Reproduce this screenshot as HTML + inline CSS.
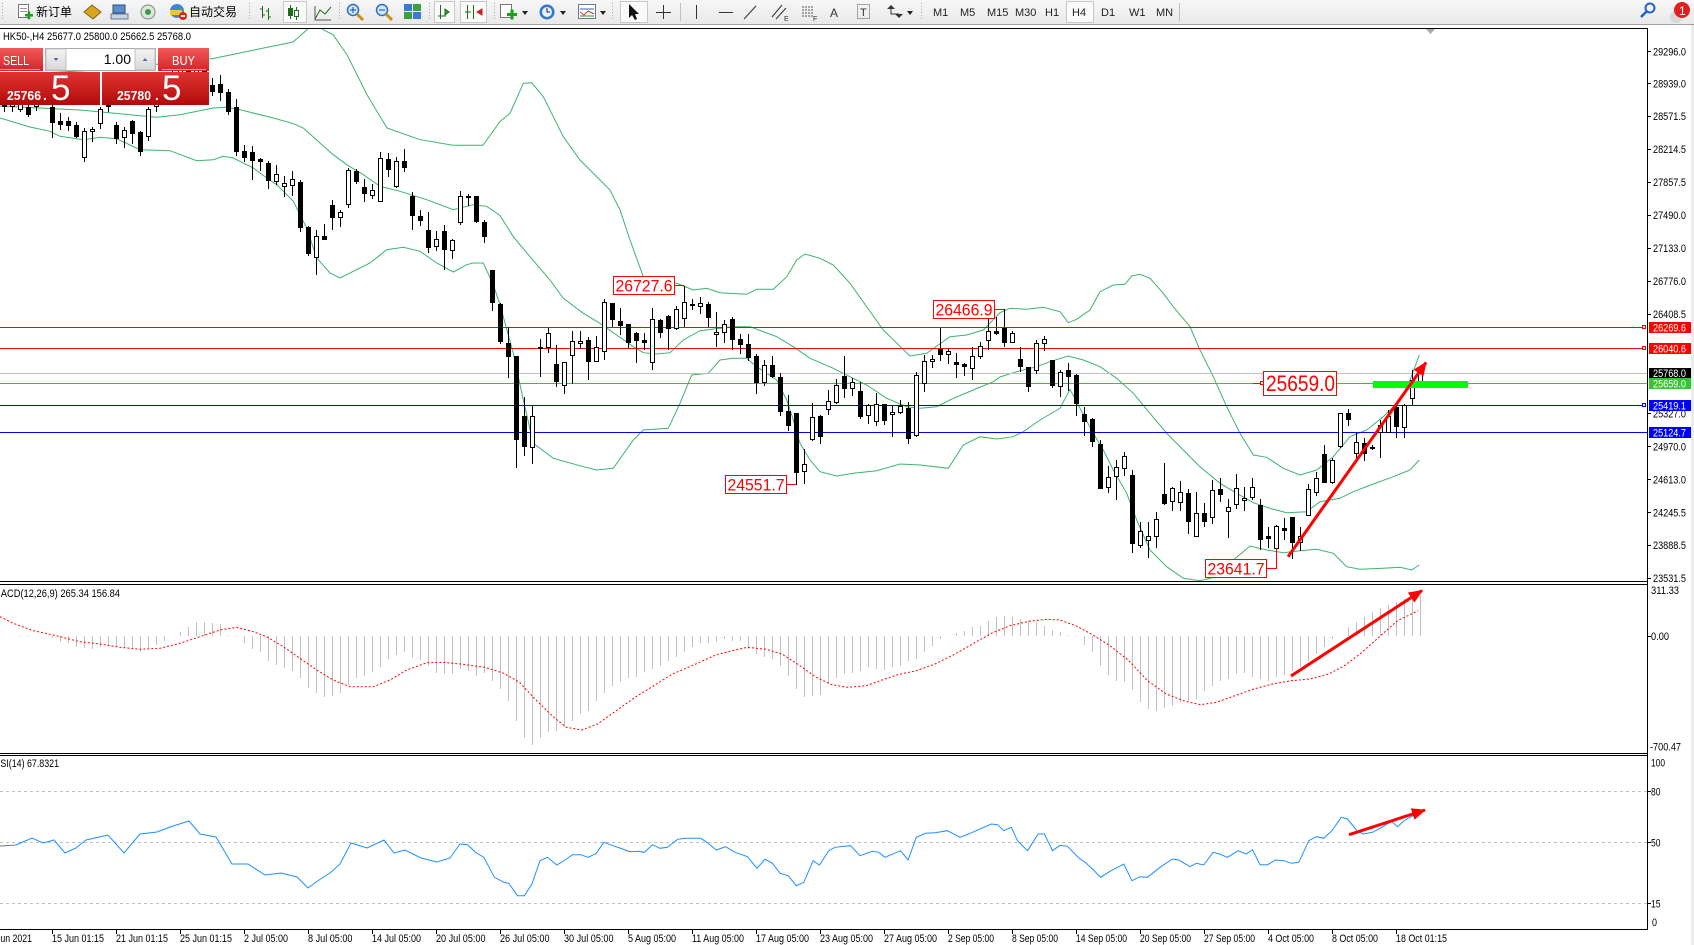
<!DOCTYPE html>
<html><head><meta charset="utf-8"><title>HK50 H4</title>
<style>
html,body{margin:0;padding:0;background:#fff;}
svg{display:block;}
text{font-family:"Liberation Sans","Noto Sans CJK SC",sans-serif;}
</style></head>
<body>
<svg id="c" width="1694" height="945" viewBox="0 0 1694 945" xmlns="http://www.w3.org/2000/svg">
<defs>
<clipPath id="cm"><rect x="0" y="29" width="1647" height="552"/></clipPath>
<clipPath id="cd"><rect x="0" y="585" width="1647" height="168"/></clipPath>
<clipPath id="cr"><rect x="0" y="756" width="1647" height="173"/></clipPath>
<linearGradient id="gb" x1="0" y1="0" x2="0" y2="1"><stop offset="0" stop-color="#f25a5a"/><stop offset="1" stop-color="#d42424"/></linearGradient>
<linearGradient id="gp" x1="0" y1="0" x2="0" y2="1"><stop offset="0" stop-color="#e03434"/><stop offset="1" stop-color="#b20a0a"/></linearGradient>
<linearGradient id="gt" x1="0" y1="0" x2="0" y2="1"><stop offset="0" stop-color="#f7f7f7"/><stop offset="1" stop-color="#e9e9e9"/></linearGradient>
<linearGradient id="gs" x1="0" y1="0" x2="0" y2="1"><stop offset="0" stop-color="#f4f4f4"/><stop offset="1" stop-color="#d8d8d8"/></linearGradient>
<marker id="ah" markerUnits="userSpaceOnUse" markerWidth="14" markerHeight="12" refX="13" refY="6" orient="auto"><path d="M0,0 L14,6 L0,12 Z" fill="#ff0000"/></marker>
</defs>

<rect x="0" y="0" width="1694" height="945" fill="#fff"/>

<!-- ============ TOOLBAR ============ -->
<rect x="0" y="0" width="1694" height="24" fill="url(#gt)"/>
<rect x="0" y="24" width="1694" height="1" fill="#a0a0a0"/>
<g stroke="#a8a8a8" stroke-dasharray="1,2">
<line x1="2.5" y1="3" x2="2.5" y2="21"/><line x1="249.5" y1="3" x2="249.5" y2="21"/>
<line x1="339.5" y1="3" x2="339.5" y2="21"/><line x1="429.5" y1="3" x2="429.5" y2="21"/>
<line x1="494.5" y1="3" x2="494.5" y2="21"/><line x1="612.5" y1="3" x2="612.5" y2="21"/>
<line x1="921.5" y1="3" x2="921.5" y2="21"/>
</g>
<g stroke="#c0c0c0"><line x1="680.5" y1="3" x2="680.5" y2="21"/><line x1="1179.5" y1="3" x2="1179.5" y2="21"/><line x1="235.5" y1="3" x2="235.5" y2="21" stroke="none"/></g>
<!-- pressed buttons -->
<g fill="#fafafa" stroke="#c8c8c8">
<rect x="283.5" y="1.5" width="23" height="21"/><rect x="434.5" y="1.5" width="20" height="21"/>
<rect x="460.5" y="1.5" width="26" height="21"/><rect x="620.5" y="1.5" width="27" height="21"/>
<rect x="1066.5" y="1.5" width="27" height="21"/>
</g>
<!-- new order -->
<rect x="18.5" y="4.5" width="10" height="13" fill="#fff" stroke="#777"/>
<line x1="20" y1="8.5" x2="27" y2="8.5" stroke="#999"/><line x1="20" y1="11.5" x2="27" y2="11.5" stroke="#999"/>
<rect x="25" y="14" width="8" height="2.5" fill="#1aa01a"/><rect x="27.7" y="11.3" width="2.5" height="8" fill="#1aa01a"/>
<text x="36" y="16" font-size="12" fill="#000">新订单</text>
<polygon points="84,12 92,5 101,12 93,19" fill="#d9a520" stroke="#8a6410"/>
<rect x="113" y="5" width="12" height="8" fill="#5b8fd0" stroke="#2a4f80"/><rect x="111" y="14" width="17" height="5" fill="#c9d4e2" stroke="#6a7a90"/>
<circle cx="148" cy="12" r="7" fill="#dce6dc" stroke="#7a8a7a"/><circle cx="148" cy="12" r="3" fill="#3a9a4a"/>
<circle cx="177" cy="11" r="7" fill="#3f86d8"/><rect x="170" y="10" width="12" height="5" fill="#f2c440"/><circle cx="183" cy="16" r="4" fill="#e02020"/><rect x="181" y="15" width="4" height="2" fill="#fff"/>
<text x="189" y="16" font-size="12" fill="#000">自动交易</text>
<!-- chart types -->
<g stroke="#1d6b1d" fill="none">
<path d="M262.5,6 V18 M260,9 H262.5 M262.5,15 H265 M268.5,8 V20 M266,11 H268.5 M268.5,17 H271"/>
<path d="M290.5,5 V19 M296.5,7 V20"/><rect x="288.5" y="8.5" width="4" height="7" fill="#1d6b1d"/><rect x="294.5" y="10.5" width="4" height="6" fill="#fff"/>
<path d="M315,19 L320,10 L325,14 L331,7"/><path d="M315,6 V20 H331" stroke="#555"/>
</g>
<!-- zoom icons -->
<circle cx="353" cy="10" r="5.5" fill="#cfe6ff" stroke="#2a6fc0" stroke-width="1.5"/><path d="M357,14 L363,20" stroke="#c89018" stroke-width="3"/><path d="M350,10 H356 M353,7 V13" stroke="#204a90"/>
<circle cx="382" cy="10" r="5.5" fill="#cfe6ff" stroke="#2a6fc0" stroke-width="1.5"/><path d="M386,14 L392,20" stroke="#c89018" stroke-width="3"/><path d="M379,10 H385" stroke="#204a90"/>
<rect x="404" y="4" width="8" height="7" fill="#3a7ad0"/><rect x="413" y="4" width="8" height="7" fill="#3aa040"/><rect x="404" y="12" width="8" height="7" fill="#3aa040"/><rect x="413" y="12" width="8" height="7" fill="#3a7ad0"/>
<g stroke="#1d6b1d" fill="none"><path d="M440.5,5 V19 M438,16 H446"/><path d="M445,9 L449,12 L445,15 Z" fill="#2aa02a"/>
<path d="M467.5,5 V19 M473.5,5 V19 M465,12 H471"/><path d="M482,9 L477,12 L482,15 Z" fill="#d02020" stroke="#d02020"/></g>
<rect x="500.5" y="4.5" width="11" height="13" fill="#fff" stroke="#777"/><rect x="507" y="13" width="10" height="3" fill="#1aa01a"/><rect x="510.5" y="9.5" width="3" height="10" fill="#1aa01a"/>
<path d="M522,11 L528,11 L525,15 Z" fill="#222"/>
<circle cx="547" cy="12" r="7.5" fill="#2f78d0"/><circle cx="547" cy="12" r="5" fill="#e8f0ff"/><path d="M547,8 V12 H550" stroke="#222" fill="none"/>
<path d="M560,11 L566,11 L563,15 Z" fill="#222"/>
<rect x="578.5" y="4.5" width="17" height="14" fill="#fff" stroke="#6a7a90"/><path d="M580,9 H594" stroke="#3060b0"/><path d="M580,12 L584,15 L588,11 L594,14" stroke="#d03030" fill="none"/><path d="M580,16 H594" stroke="#2a9a2a"/>
<path d="M600,11 L606,11 L603,15 Z" fill="#222"/>
<!-- drawing tools -->
<path d="M629,4 V18 L632,15 L635,20 L637,19 L635,14 L639,14 Z" fill="#111"/>
<path d="M663.5,5 V19 M656,12.5 H671" stroke="#333"/>
<path d="M696.5,5 V19" stroke="#333"/>
<path d="M719,12.5 H733" stroke="#333"/>
<path d="M744,19 L756,6" stroke="#333"/>
<path d="M772,17 L782,5 M776,19 L786,8" stroke="#333"/><text x="784" y="21" font-size="7" fill="#333">E</text>
<path d="M802,7 H814 M802,10 H814 M802,13 H814 M802,16 H814" stroke="#555" stroke-dasharray="2,1"/><text x="813" y="21" font-size="7" fill="#333">F</text>
<text x="830" y="17" font-size="12" fill="#333">A</text>
<rect x="857.5" y="4.5" width="12" height="14" fill="none" stroke="#555" stroke-dasharray="1,1"/><text x="860" y="16" font-size="11" fill="#333">T</text>
<path d="M887,9 L891,5 L895,9 Z M895,14 L899,18 L903,14 Z" fill="#333"/><path d="M891,9 V14 H899" stroke="#333" fill="none"/>
<path d="M907,11 L913,11 L910,15 Z" fill="#222"/>
<!-- timeframes -->
<g font-size="11" fill="#222">
<text x="933" y="16">M1</text><text x="960" y="16">M5</text><text x="987" y="16">M15</text><text x="1015" y="16">M30</text>
<text x="1045" y="16">H1</text><text x="1072" y="16">H4</text><text x="1101" y="16">D1</text><text x="1129" y="16">W1</text><text x="1156" y="16">MN</text>
</g>
<circle cx="1650" cy="8" r="4.5" fill="none" stroke="#2060d0" stroke-width="2"/><path d="M1647,11 L1641,17" stroke="#2060d0" stroke-width="2.5"/>
<circle cx="1676" cy="17" r="6" fill="#d8d8d8"/>
<circle cx="1682" cy="10" r="8" fill="#e02020"/><text x="1679" y="15" font-size="12" fill="#fff">1</text>

<!-- ============ FRAME ============ -->
<rect x="0" y="25" width="1694" height="3" fill="#fff"/>
<rect x="0" y="28" width="1647" height="1" fill="#000"/>
<rect x="1691" y="25" width="3" height="920" fill="#ececec"/>
<polygon points="1426,29 1435,29 1430.5,34" fill="#a8a8a8"/>

<!-- ============ MAIN CHART ============ -->
<g clip-path="url(#cm)">
<g fill="none" stroke="#3cb371" stroke-width="1">
<polyline points="0,75 100,70 212,58.7 293,42 307,29.7 315,22 323,29.7 333,34.7 347,54.7 367,94.7 387,128 420,139.7 453,145.3 483,145.3 500,121.5 510,113.3 523.3,83.3 531.7,82.7 543.3,96.7 563.3,136.7 580,160 596.7,176.7 610,190 620,210 630,240 643.3,276.7 660,281.7 676.7,283.3 693.3,290 706.7,288.3 720,292.7 746.7,294.3 756.7,289.3 773.3,289.3 786.7,276.7 796.7,260 805,254 820,258.3 833.3,265 850,283.3 883.3,330 910,356 926.7,353.3 950,336.7 966.7,335 983.3,330 1000,312.7 1010,308.3 1026.7,309.3 1043.3,307.3 1060,311.7 1068.3,322.7 1076.7,319.3 1090,310 1100,291.7 1113.3,285 1125,284.3 1131.7,276 1140,274.3 1150,278.3 1163.3,293.3 1173.3,306.7 1190,326.7 1200,350 1213.3,376.7 1226.7,406.7 1240,433.3 1253.3,455 1266.7,457.3 1283.3,468.3 1300,475 1316.7,470 1333.3,456.7 1350,436.7 1366.7,430 1383.3,416.7 1400,400 1410,380 1419.3,355"/>
<polyline points="0,106 80,110 157,117.3 180,114.7 213.3,108 226.7,107.3 240,109.7 273.3,118 293.3,123.7 303.3,128 320,143 333.3,154.7 346.7,164.7 363.3,174.7 380,186.3 400,191.3 426.7,199.7 453.3,209.7 473.3,204.7 486.7,206.3 500,215.5 513.3,236.7 530,256.7 550,280 563.3,298.3 583.3,313.3 600,323.3 616.7,335 633.3,346.7 643.3,352.7 656.7,354 670,352.7 683.3,340 700,330.7 720,328.3 733.3,326.7 750,326.7 776.7,336.7 793.3,346.7 810,358.3 833.3,368.3 850,376.7 866.7,385 886.7,398.3 906.7,406.7 920,408.3 936.7,406.7 953.3,398.3 973.3,390 993.3,381.7 1000,377 1016.7,371.7 1036.7,366.7 1050,361.7 1068.3,356 1083.3,360 1100,366.7 1116.7,378.3 1133.3,393.3 1150,413.3 1166.7,433.3 1183.3,450 1200,466.7 1220,483.3 1236.7,493.3 1253.3,502.7 1270,508.3 1286.7,512.7 1306.7,511.7 1320,501.7 1340,498.3 1353.3,491.7 1373.3,484 1393.3,476.7 1410,470 1419.3,460"/>
<polyline points="0,118 30,127 50,131.3 60,136.3 83.3,139.7 100,137.3 116.7,138.7 140,149.7 170,150.7 196.7,160.7 213.3,159.7 223.3,156.3 233.3,158 253.3,168 266.7,178 276.7,184.7 293.3,201.3 300,214.7 306.7,228 316.7,258 330,273 340,278 353.3,271.3 370,263 386.7,249.7 403.3,247.3 420,251.3 436.7,263 453.3,272 466.7,264.7 473.3,263 483.3,263 493.3,284.7 500,304.7 503.3,316.7 513.3,353.3 523.3,400 533.3,443.3 553.3,458.3 583.3,466.7 596.7,470 613.3,468.3 633.3,440 643.3,430 668.3,428.3 680,403.3 691.7,375 708.3,373.3 720,360 733.3,358.3 746.7,358.3 756.7,366.7 766.7,373.3 776.7,380 786.7,400 793.3,420 800,443.3 810,460 820,471.7 836.7,476 853.3,473.3 876.7,470.7 900,464 920,465 948.3,468.3 963.3,445 980,436.7 996.7,439 1013.3,436.7 1023.3,431.7 1040,420 1060,408.3 1070,389.3 1080,408.3 1093.3,433.3 1103.3,450 1113.3,470 1126.7,493.3 1136.7,520 1150,550 1166.7,566.7 1183.3,578.3 1200,580.7 1216.7,576.7 1233.3,560 1250,546 1266.7,550 1283.3,552.7 1300,550.7 1316.7,549.3 1333.3,553.3 1346.7,566.7 1360,569.3 1383.3,568.3 1400,567.3 1411.7,570 1419.3,565"/>
</g>
<g shape-rendering="crispEdges">
<rect x="0" y="327" width="1643" height="1" fill="#ff0000"/>
<rect x="0" y="348" width="1643" height="1" fill="#ff0000"/>
<rect x="0" y="373" width="1647" height="1" fill="#c0c0c0"/>
<rect x="0" y="383" width="1647" height="1" fill="#32c832"/>
<rect x="0" y="405" width="1643" height="1" fill="#0000ff"/>
<rect x="0" y="432" width="1647" height="1" fill="#0000ff"/>
<rect x="1642.5" y="325.5" width="3" height="3" fill="#fff" stroke="#ff0000"/>
<rect x="1642.5" y="346.5" width="3" height="3" fill="#fff" stroke="#ff0000"/>
<rect x="1642.5" y="403.5" width="3" height="3" fill="#fff" stroke="#0000ff"/>
</g>
<g id="candles" shape-rendering="crispEdges"></g>
<!-- annotations -->
<rect x="1373" y="381" width="95" height="7" fill="#00ff00"/>
<g shape-rendering="crispEdges">
<rect x="674" y="285" width="10" height="1" fill="#ff0000"/>
<rect x="994" y="309" width="10" height="1" fill="#ff0000"/>
<rect x="786" y="484" width="10" height="1" fill="#ff0000"/>
<rect x="1267" y="568" width="9" height="1" fill="#ff0000"/>
<rect x="1276" y="548" width="1" height="21" fill="#ff0000"/>
<rect x="1253" y="383" width="8" height="1" fill="#ff0000"/>
<rect x="1260.5" y="381.5" width="3" height="3" fill="#fff" stroke="#ff0000"/>
<rect x="613.5" y="276.5" width="61" height="18" fill="#fff" stroke="#ff0000"/>
<rect x="933.5" y="300.5" width="61" height="18" fill="#fff" stroke="#ff0000"/>
<rect x="725.5" y="475.5" width="61" height="18" fill="#fff" stroke="#ff0000"/>
<rect x="1205.5" y="559.5" width="61" height="18" fill="#fff" stroke="#ff0000"/>
<rect x="1263.5" y="371.5" width="73" height="24" fill="#fff" stroke="#ff0000"/>
</g>
<g fill="#ff0000" font-size="17">
<text x="615.5" y="291.5" textLength="57" lengthAdjust="spacingAndGlyphs">26727.6</text>
<text x="935.5" y="315.5" textLength="57" lengthAdjust="spacingAndGlyphs">26466.9</text>
<text x="727.5" y="490.5" textLength="57" lengthAdjust="spacingAndGlyphs">24551.7</text>
<text x="1207.5" y="574.5" textLength="57" lengthAdjust="spacingAndGlyphs">23641.7</text>
<text x="1266" y="391" font-size="22" textLength="69" lengthAdjust="spacingAndGlyphs">25659.0</text>
</g>
<line x1="1288" y1="556.7" x2="1426" y2="362.5" stroke="#ff0000" stroke-width="3" marker-end="url(#ah)"/>
</g>

<!-- header -->
<text x="3" y="40" font-size="11" fill="#000" textLength="188" lengthAdjust="spacingAndGlyphs">HK50-,H4  25677.0 25800.0 25662.5 25768.0</text>

<!-- one click trading panel -->
<rect x="0" y="48" width="43" height="23" fill="url(#gb)"/>
<rect x="0" y="69" width="40" height="1" fill="#f4a0a0"/>
<text x="3" y="65" font-size="13" fill="#fff" textLength="26" lengthAdjust="spacingAndGlyphs">SELL</text>
<rect x="45.5" y="48.5" width="110" height="22" fill="#fff" stroke="#a8a8a8"/>
<rect x="46" y="49" width="20" height="21" fill="url(#gs)" stroke="#c0c0c0"/>
<rect x="135" y="49" width="20" height="21" fill="url(#gs)" stroke="#c0c0c0"/>
<path d="M53.5,58 L58.5,58 L56,61 Z" fill="#5a6aa0"/>
<path d="M142.5,61 L147.5,61 L145,58 Z" fill="#5a6aa0"/>
<text x="131" y="64" font-size="14" fill="#000" text-anchor="end">1.00</text>
<rect x="158" y="48" width="51" height="23" fill="url(#gb)"/>
<rect x="162" y="69" width="44" height="1" fill="#f4a0a0"/>
<text x="172" y="65" font-size="13" fill="#fff" textLength="23" lengthAdjust="spacingAndGlyphs">BUY</text>
<rect x="0" y="72" width="100" height="33" fill="url(#gp)"/>
<rect x="102" y="72" width="107" height="33" fill="url(#gp)"/>
<g fill="#fff">
<text x="7" y="100" font-size="13" font-weight="bold" textLength="34" lengthAdjust="spacingAndGlyphs">25766</text>
<text x="43" y="100" font-size="14" font-weight="bold">.</text>
<text x="51" y="100" font-size="35">5</text>
<text x="117" y="100" font-size="13" font-weight="bold" textLength="34" lengthAdjust="spacingAndGlyphs">25780</text>
<text x="155" y="100" font-size="14" font-weight="bold">.</text>
<text x="162" y="100" font-size="35">5</text>
</g>

<!-- ============ MACD ============ -->
<g clip-path="url(#cd)">
<g id="hist" stroke="#c0c0c0" shape-rendering="crispEdges"></g>
<polyline fill="none" stroke="#ff0000" stroke-dasharray="2,2" points="0,616.7 13.3,623.3 33.3,630.7 53.3,635 80,641.7 100,644 120,647.3 140,649.3 160,648.3 180,643.3 200,636.7 220,630 236.7,627.3 253.3,631.7 266.7,636.7 283.3,646.7 300,658.3 316.7,670 333.3,680 350,686.7 373.3,686.7 390,680 406.7,670 426.7,662.7 443.3,662.3 460,664 485,667.3 503.8,673.3 519.4,682.3 535,699 553.8,717.3 566.3,727.3 581.9,730 597.5,724 616.3,710.7 635,697.3 653.8,685.7 672.5,674 697.5,663.3 716.3,654.7 735,650 747.5,647.3 766.3,649.3 781.9,654 797.5,664 816.3,677.3 831.9,684.7 847.5,687.3 866.3,685.7 885,679 897.5,674.7 916.3,670.7 935,664 953.8,654.7 972.5,644 991.3,633.3 1010,625.7 1028.8,621.3 1047.5,619.3 1060,620 1075.6,625.7 1091.3,634 1110,645.7 1128.8,660.7 1147.5,680.7 1166.3,694 1185,701.3 1200.6,704.7 1216.3,702.3 1235,695.7 1253.8,689 1272.5,684 1291.3,680.7 1310,679 1328.8,674 1344.4,665.7 1360,654 1378.8,637.3 1397.5,620.7 1418.1,610.7"/>
<line x1="1291" y1="676" x2="1422" y2="590.5" stroke="#ff0000" stroke-width="3" marker-end="url(#ah)"/>
</g>
<text x="-7" y="597" font-size="11" fill="#000" textLength="127" lengthAdjust="spacingAndGlyphs">MACD(12,26,9) 265.34 156.84</text>

<!-- ============ RSI ============ -->
<g clip-path="url(#cr)">
<g stroke="#c0c0c0" stroke-dasharray="3,3" shape-rendering="crispEdges">
<line x1="0" y1="791.5" x2="1647" y2="791.5"/><line x1="0" y1="842.5" x2="1647" y2="842.5"/><line x1="0" y1="903.5" x2="1647" y2="903.5"/>
</g>
<polyline fill="none" stroke="#1e90ff" stroke-width="1" points="0,846 16,845 32,838 43,843 54,840 65,853 76,848 86,840 108,835 124,853 140,834 157,832 173,826 189,821 200,834 216,837 232,864 248,864 265,875 281,873 297,877 308,888 319,880 330,873 340,864 351,843 367,848 384,840 394,853 405,850 421,858 437,862 450,858 460,844 467.5,844.7 475.6,852.3 483.8,857.3 494.4,877.3 503.8,882.3 508.8,883.3 517.5,895.7 524.4,895.7 531.9,884 540,860.7 547.5,857.3 556.9,865 565,860 572.5,854.7 580.6,854.7 588.1,857.3 596.3,853.3 603.8,842.3 613.1,845.7 622.5,849 630,851.7 638.1,851.3 644.4,852.3 652.5,844.7 660,848.3 667.5,847.3 677.5,839.3 685,838.3 700.6,838.3 706.9,842.3 716.3,850 725.6,846.7 735,852.3 747.5,856.7 756.9,868.3 765,859.3 772.5,863.3 780,873.3 788.1,875.7 796.3,885.7 803.8,882.3 813.1,860.7 819.4,865 828.8,850.7 835,847.3 850.6,845.7 860,855.7 872.5,851.3 878.8,852.3 885,857.3 900.6,850.7 908.1,860 916.3,837.3 925.6,833.3 935,832.7 947.5,830.7 960,837.3 972.5,832.3 991.3,824 997.5,824.7 1003.8,830.7 1011.3,827.3 1017.5,840.7 1027.5,850.7 1038.1,834 1044.4,834 1052.5,850.7 1060,845.3 1067.5,846.3 1078.8,858 1085,862.3 1092.5,869 1100.6,877.3 1110,871.3 1123.8,864 1131.9,880.7 1140,876.7 1147.5,877.3 1160,867.3 1172.5,859 1178.8,860 1190,866.7 1196.3,863.3 1203.8,865 1213.1,852.3 1219.4,854 1227.5,857.3 1238.1,850.7 1246.3,854 1252.5,849.7 1260,864.7 1267.5,864.7 1275.6,860 1283.8,860.7 1291.3,863.3 1298.8,862.3 1308.8,840.7 1316.3,836.7 1323.8,838.3 1331.9,830.7 1341.3,817.3 1347.5,819 1356.9,830.7 1363.1,834 1372.5,832.3 1381.9,827.3 1391.3,821.3 1397.5,826.7 1405,820 1413.1,815.7 1420,812"/>
<line x1="1349" y1="834.7" x2="1425" y2="810" stroke="#ff0000" stroke-width="3" marker-end="url(#ah)"/>
</g>
<text x="-6" y="767" font-size="11" fill="#000" textLength="65" lengthAdjust="spacingAndGlyphs">RSI(14) 67.8321</text>

<!-- ============ PANE BORDERS / AXES ============ -->
<g fill="#000" shape-rendering="crispEdges">
<rect x="0" y="581" width="1647" height="1"/>
<rect x="0" y="584" width="1647" height="1"/>
<rect x="0" y="753" width="1647" height="1"/>
<rect x="0" y="755" width="1647" height="1"/>
<rect x="0" y="929" width="1647" height="1"/>
<rect x="1647" y="28" width="1" height="902"/>
</g>
<!-- price ticks -->
<g stroke="#000" shape-rendering="crispEdges">
<line x1="1647" y1="51.5" x2="1651" y2="51.5"/><line x1="1647" y1="83.5" x2="1651" y2="83.5"/><line x1="1647" y1="116.5" x2="1651" y2="116.5"/>
<line x1="1647" y1="149.5" x2="1651" y2="149.5"/><line x1="1647" y1="182.5" x2="1651" y2="182.5"/><line x1="1647" y1="215.5" x2="1651" y2="215.5"/>
<line x1="1647" y1="248.5" x2="1651" y2="248.5"/><line x1="1647" y1="281.5" x2="1651" y2="281.5"/><line x1="1647" y1="314.5" x2="1651" y2="314.5"/>
<line x1="1647" y1="413.5" x2="1651" y2="413.5"/><line x1="1647" y1="446.5" x2="1651" y2="446.5"/><line x1="1647" y1="479.5" x2="1651" y2="479.5"/>
<line x1="1647" y1="512.5" x2="1651" y2="512.5"/><line x1="1647" y1="545.5" x2="1651" y2="545.5"/><line x1="1647" y1="578.5" x2="1651" y2="578.5"/>
<line x1="1647" y1="636.5" x2="1651" y2="636.5"/><line x1="1647" y1="791.5" x2="1651" y2="791.5"/><line x1="1647" y1="842.5" x2="1651" y2="842.5"/><line x1="1647" y1="903.5" x2="1651" y2="903.5"/>
</g>
<g font-size="11" fill="#000" lengthAdjust="spacingAndGlyphs">
<text x="1653" y="55.5" textLength="33" lengthAdjust="spacingAndGlyphs">29296.0</text>
<text x="1653" y="87.5" textLength="33" lengthAdjust="spacingAndGlyphs">28939.0</text>
<text x="1653" y="120" textLength="33" lengthAdjust="spacingAndGlyphs">28571.5</text>
<text x="1653" y="153" textLength="33" lengthAdjust="spacingAndGlyphs">28214.5</text>
<text x="1653" y="186" textLength="33" lengthAdjust="spacingAndGlyphs">27857.5</text>
<text x="1653" y="219" textLength="33" lengthAdjust="spacingAndGlyphs">27490.0</text>
<text x="1653" y="252" textLength="33" lengthAdjust="spacingAndGlyphs">27133.0</text>
<text x="1653" y="285" textLength="33" lengthAdjust="spacingAndGlyphs">26776.0</text>
<text x="1653" y="318" textLength="33" lengthAdjust="spacingAndGlyphs">26408.5</text>
<text x="1653" y="417.5" textLength="33" lengthAdjust="spacingAndGlyphs">25327.0</text>
<text x="1653" y="450.5" textLength="33" lengthAdjust="spacingAndGlyphs">24970.0</text>
<text x="1653" y="483.5" textLength="33" lengthAdjust="spacingAndGlyphs">24613.0</text>
<text x="1653" y="516.5" textLength="33" lengthAdjust="spacingAndGlyphs">24245.5</text>
<text x="1653" y="549" textLength="33" lengthAdjust="spacingAndGlyphs">23888.5</text>
<text x="1653" y="582" textLength="33" lengthAdjust="spacingAndGlyphs">23531.5</text>
<text x="1651" y="594" textLength="28" lengthAdjust="spacingAndGlyphs">311.33</text>
<text x="1651" y="640" textLength="18" lengthAdjust="spacingAndGlyphs">0.00</text>
<text x="1650" y="750.5" textLength="31" lengthAdjust="spacingAndGlyphs">-700.47</text>
<text x="1651" y="766.5" textLength="14" lengthAdjust="spacingAndGlyphs">100</text>
<text x="1651" y="795.5" textLength="9.5" lengthAdjust="spacingAndGlyphs">80</text>
<text x="1651" y="846.5" textLength="9.5" lengthAdjust="spacingAndGlyphs">50</text>
<text x="1651" y="907.5" textLength="9.5" lengthAdjust="spacingAndGlyphs">15</text>
<text x="1652" y="926" textLength="5" lengthAdjust="spacingAndGlyphs">0</text>
</g>
<!-- colored price labels -->
<g shape-rendering="crispEdges">
<rect x="1649" y="322" width="42" height="11" fill="#ff0000"/>
<rect x="1649" y="343" width="42" height="11" fill="#ff0000"/>
<rect x="1649" y="368" width="42" height="10" fill="#000"/>
<rect x="1649" y="378" width="42" height="11" fill="#32c832"/>
<rect x="1649" y="400" width="42" height="11" fill="#0000ff"/>
<rect x="1649" y="427" width="42" height="11" fill="#0000ff"/>
</g>
<g font-size="11" fill="#fff">
<text x="1653" y="331.5" textLength="33" lengthAdjust="spacingAndGlyphs">26269.6</text>
<text x="1653" y="352.5" textLength="33" lengthAdjust="spacingAndGlyphs">26040.6</text>
<text x="1653" y="377" textLength="33" lengthAdjust="spacingAndGlyphs">25768.0</text>
<text x="1653" y="387.5" textLength="33" lengthAdjust="spacingAndGlyphs">25659.0</text>
<text x="1653" y="409.5" textLength="33" lengthAdjust="spacingAndGlyphs">25419.1</text>
<text x="1653" y="436.5" textLength="33" lengthAdjust="spacingAndGlyphs">25124.7</text>
</g>

<!-- time axis -->
<g id="tticks" stroke="#000" shape-rendering="crispEdges"></g>
<g font-size="11" fill="#000">
<text x="-4" y="942" textLength="36" lengthAdjust="spacingAndGlyphs">Jun 2021</text>
<text x="52" y="942" textLength="52" lengthAdjust="spacingAndGlyphs">15 Jun 01:15</text>
<text x="116" y="942" textLength="52" lengthAdjust="spacingAndGlyphs">21 Jun 01:15</text>
<text x="180" y="942" textLength="52" lengthAdjust="spacingAndGlyphs">25 Jun 01:15</text>
<text x="244" y="942" textLength="44" lengthAdjust="spacingAndGlyphs">2 Jul 05:00</text>
<text x="308" y="942" textLength="44.5" lengthAdjust="spacingAndGlyphs">8 Jul 05:00</text>
<text x="372" y="942" textLength="49" lengthAdjust="spacingAndGlyphs">14 Jul 05:00</text>
<text x="436" y="942" textLength="49.5" lengthAdjust="spacingAndGlyphs">20 Jul 05:00</text>
<text x="500" y="942" textLength="49.5" lengthAdjust="spacingAndGlyphs">26 Jul 05:00</text>
<text x="564" y="942" textLength="49.5" lengthAdjust="spacingAndGlyphs">30 Jul 05:00</text>
<text x="628" y="942" textLength="48" lengthAdjust="spacingAndGlyphs">5 Aug 05:00</text>
<text x="692" y="942" textLength="52" lengthAdjust="spacingAndGlyphs">11 Aug 05:00</text>
<text x="756" y="942" textLength="53" lengthAdjust="spacingAndGlyphs">17 Aug 05:00</text>
<text x="820" y="942" textLength="53" lengthAdjust="spacingAndGlyphs">23 Aug 05:00</text>
<text x="884" y="942" textLength="53" lengthAdjust="spacingAndGlyphs">27 Aug 05:00</text>
<text x="948" y="942" textLength="46" lengthAdjust="spacingAndGlyphs">2 Sep 05:00</text>
<text x="1012" y="942" textLength="46" lengthAdjust="spacingAndGlyphs">8 Sep 05:00</text>
<text x="1076" y="942" textLength="51" lengthAdjust="spacingAndGlyphs">14 Sep 05:00</text>
<text x="1140" y="942" textLength="51" lengthAdjust="spacingAndGlyphs">20 Sep 05:00</text>
<text x="1204" y="942" textLength="51" lengthAdjust="spacingAndGlyphs">27 Sep 05:00</text>
<text x="1268" y="942" textLength="46" lengthAdjust="spacingAndGlyphs">4 Oct 05:00</text>
<text x="1332" y="942" textLength="46" lengthAdjust="spacingAndGlyphs">8 Oct 05:00</text>
<text x="1396" y="942" textLength="51" lengthAdjust="spacingAndGlyphs">18 Oct 01:15</text>
</g>
</svg>
<script>
(function(){
var NS='http://www.w3.org/2000/svg';
function add(p,t,a){var e=document.createElementNS(NS,t);for(var k in a)e.setAttribute(k,a[k]);p.appendChild(e);return e;}
var C=[
[0,0,100,106,95,111],[1,1,100,106,96,111],[2,1,104,109,98,111],[3,0,107.3,114,100,116.3],[4,1,98,106,95,110],
[5,1,92,102,88,104],[6,0,107.3,122,100,137.3],[7,0,121.3,124,113.3,128.7],[8,0,121.3,124.7,117.3,129.7],[9,0,125.3,136,122,136.7],
[10,1,131.3,157.3,128,161.3],[11,1,129,131.3,127.3,140.7],[12,1,109,123.3,107.3,128],[13,0,100,106,96,111],[14,0,125.3,138,122,143],
[15,1,130.3,137.3,127.3,147.3],[16,0,121.3,133.3,119.7,143],[17,0,132,151.3,130.7,154.7],[18,1,109,136.3,107.3,139.7],[19,1,96,106,92,111],
[20,0,85,100,80,104],[21,1,75,95,70,98],[22,1,65,80,60,84],[23,0,68,78,62,85],[24,1,60,72,55,76],
[25,0,62,75,58,80],[26,0,84.7,91.3,78,95],[27,0,84,92.3,75.3,99.7],[28,0,92.3,111.3,89,114],[29,0,107.3,150.7,99,155.3],
[30,0,151.3,156.7,145.3,161.3],[31,0,152.3,159.7,146.3,178.7],[32,0,159,161.3,158,169.7],[33,0,163,179.7,161.3,188],[34,1,174,180.7,164.7,184],
[35,1,183,186.3,176.3,196.3],[36,1,178.7,184.7,171.3,194.7],[37,0,182.3,226.7,180.3,230.7],[38,0,227,253,225.7,254.7],[39,1,236.3,257.3,230,274],
[40,0,236.3,238.7,223.7,238.7],[41,0,205.3,216.7,200.3,228.7],[42,1,211.7,217.3,209.7,225.7],[43,1,170.3,203.7,168,206.7],[44,0,170.7,180.7,169.3,183],
[45,0,187,192.7,179,200.7],[46,1,190.3,194.7,184,197.7],[47,1,158,201.3,152.3,201.3],[48,0,159,168.7,153,175.7],[49,1,161.3,185.7,157.3,186.7],
[50,0,160.7,167.3,149,170.7],[51,0,196.3,214.7,192.3,228.7],[52,0,216.3,220.3,210.3,224.7],[53,0,229.7,247.3,212,252.3],[54,1,239,246.3,231.3,250.3],
[55,0,231.3,249,224.7,268.7],[56,1,240,250.3,239,258],[57,1,196.3,222.3,191.3,223.7],[58,1,195.5,196.5,194,204.7],[59,0,196.3,221.3,196.3,222.3],
[60,0,222.3,236.3,220,242.3],[61,0,270.3,302,270.3,309.7],[62,0,304,341,303,343],[63,0,342.7,356,326.7,377],[64,0,356,439.3,356,467.3],
[65,0,416,445.7,397.3,455],[66,1,416,446.7,406,462.7],[67,1,346.5,348,339.3,376],[68,1,333.3,347.3,328.3,351.7],[69,0,364,380.7,345,386],
[70,1,361.7,385,361.7,392.7],[71,1,340.7,355,330.7,382.7],[72,1,341,342.5,330.7,348.3],[73,0,340,360.7,337.3,379.3],[74,1,347.3,360.7,336,360.7],
[75,1,302.3,350.7,299,359.3],[76,0,303.3,319.3,303.3,326],[77,0,321,325,308.3,334],[78,0,324.3,341.7,324.3,347.3],[79,0,333.3,340,331.7,361.7],
[80,0,340,341.7,332.7,349.3],[81,1,319.3,361.7,308.3,369.3],[82,0,320,332.3,319.3,337.3],[83,0,316,328.3,315,349.3],[84,1,309.3,328.3,306,329.3],
[85,1,302.3,318.3,285.7,326],[86,1,303.5,305,299.3,309.3],[87,1,303.3,305.7,296.7,313.3],[88,0,304.3,317.3,302.3,326],[89,1,331.7,334,311.7,345.7],
[90,1,324.3,331.7,320,341.7],[91,0,319,339.3,316.7,349.3],[92,0,339.3,344.3,334,353.3],[93,0,344.3,356.7,334,360],[94,0,355.7,381.7,354,393.3],
[95,1,365,381.7,360,385],[96,0,365,375.7,355.7,376.7],[97,0,377.3,410.7,372.7,415],[98,0,411,425,395,430],[99,0,413.3,471.7,413.3,484],
[100,1,464.3,471,449.3,482.7],[101,1,416.7,439.3,403.3,440],[102,0,415.7,436,415,442.7],[103,1,400.7,409.3,390,414],[104,1,385,401.7,379.3,403.3],
[105,0,376,388.3,356,396.7],[106,1,381.7,388.3,378.3,395],[107,0,391,416,381.7,417.7],[108,1,405,415,404.3,422.7],[109,1,404.3,421,393.3,425],
[110,0,404.3,420,404.3,424.3],[111,1,412.3,414,405,436],[112,1,405.7,412.3,400,413.3],[113,0,408.3,437.7,401.7,443.3],[114,1,375,435,371.7,435.7],
[115,1,360.7,382.7,355,391],[116,1,359.3,361,355,367.3],[117,0,349.3,354.3,327.7,360],[118,1,350.7,354,348.3,362.7],[119,0,362.3,364.3,353.3,377.3],
[120,0,364.3,365.7,362.7,375],[121,1,356,368.3,347.3,379.3],[122,1,345.7,356,342.3,357.7],[123,1,330.7,340,319.3,349.3],[124,0,330.7,332.7,316.7,334],
[125,0,327.7,341.7,309.3,345.7],[126,1,333.3,341.7,330.7,341.7],[127,0,359,366,347.3,371],[128,0,367.3,385.7,367.3,390.7],[129,1,343.3,370,340,373.3],
[130,1,339.3,343.3,336,350],[131,0,360,385,360,387.3],[132,1,372.3,385.7,370,395.7],[133,0,370,375.7,363.3,390],[134,0,375,403.3,374,415],
[135,0,414.3,420.7,406.7,435],[136,0,419.3,440.7,418.3,445.7],[137,0,444,488.3,440,488.3],[138,1,476.7,487.3,466,492.3],[139,1,467.3,476,460,499],
[140,1,455.7,468.3,451.7,475],[141,0,475,542.7,470,551.7],[142,1,530.7,545,521.7,546.7],[143,1,535.7,540,521.7,556.7],[144,1,519.3,536,511.7,546.7],
[145,0,494.3,502.7,462.7,504.3],[146,1,488.3,501,486.7,510],[147,1,492.3,502.3,481,510],[148,0,493.3,520.7,489.3,532.7],[149,1,512.7,535.7,491.7,535.7],
[150,0,512.7,520.7,502.7,525.7],[151,1,490,517.3,480,523.3],[152,0,489.3,494,478.3,500.7],[153,1,506.7,511,499.3,536.7],[154,1,488.3,504.3,474.3,508.3],
[155,1,498.3,500,486.7,510],[156,1,487.3,497.3,478.3,499.3],[157,0,505,539.3,499.3,549.3],[158,0,536,538.3,526.7,547.3],[159,1,526,548.3,525,568.3],
[160,0,528.3,530,518.3,539.3],[161,0,517.3,541.7,517.3,558.3],[162,1,536,541.7,526.7,550],[163,1,489.3,515,484,515],[164,1,478.3,491.7,471.7,495],
[165,0,454.3,481.7,445,481.7],[166,1,460,481.7,458.3,482.7],[167,1,413.3,446,412.7,446.7],[168,0,413.3,419.3,409,425],[169,1,442.3,453.3,432,457],
[170,0,442.7,452.7,438,460],[171,1,446.5,448,445,449],[172,1,425,432,420,457],[173,1,416,431.7,410,431.7],[174,0,407,425.7,406,437],
[175,1,405,427,404,437],[176,1,380,398,370,404],[177,1,373,380.7,372,381]
];
var g=document.getElementById('candles');
C.forEach(function(c){
 var cx=4+8*c[0],t=Math.round(c[2]),b=Math.round(c[3]);
 add(g,'rect',{x:cx,y:Math.round(c[4]),width:1,height:Math.max(Math.round(c[5])-Math.round(c[4])+1,1),fill:'#000'});
 if(c[1]){add(g,'rect',{x:cx-1.5,y:t+0.5,width:4,height:Math.max(b-t,1),fill:'#fff',stroke:'#000'});}
 else{add(g,'rect',{x:cx-2,y:t,width:5,height:Math.max(b-t+1,1),fill:'#000'});}
});
var H=[636,636,636.7,636.7,636,636,638.3,641.7,643.3,647.3,
648.3,649.3,647.3,645,646.7,648.3,648.3,651.7,648.3,645,
640.7,636,631.7,627.3,622.3,622.3,623.3,624,635,636.7,
642.7,649,651.7,660.7,665,668.3,670.7,678.3,688.3,692.7,
696.7,696,692.7,685,678.3,676,671.7,666.7,659.3,655,
651.7,658.3,660,665.7,673.3,674,674.3,669,670.7,675.7,
673,680.7,689,700.7,721.3,738,744.7,738.3,732.3,730.7,
727.3,721.3,714,710.7,700.7,693.3,685.7,681.7,678,676.7,
672.3,669,665.7,661.3,657.3,652.3,647.3,643.3,643.3,642.3,
639,640.7,640.7,649,654,657.3,659,665.7,675.7,689,
696.7,695.7,694.7,684,678,674,673.3,671.3,667.3,669,
670,666.7,665.7,661.3,659,652.3,645.7,639,635.7,633,
630.7,627.3,625.7,620.7,617.3,615.7,617.3,619,620.7,622.3,
625.7,630,632.3,634.7,637.3,644.7,652.3,665.7,674.7,680.7,
682.3,690,702.3,709,710.7,708,705.7,702.3,700.7,699,
690.7,685.7,680.7,679,674,673.3,676.7,679,680.7,676.7,
674.7,671.3,666.7,661.3,654,647.3,639,636.3,627.3,622.3,
617.3,612.3,608,604.7,602.3,599,595.7,592.3];
var gh=document.getElementById('hist');
H.forEach(function(v,k){
 var cx=4+8*k+0.5,y=Math.round(v);
 if(Math.abs(y-636)<1)return;
 add(gh,'line',{x1:cx,x2:cx,y1:Math.min(636,y),y2:Math.max(636,y)});
});
var gt=document.getElementById('tticks');
for(var x=52;x<1420;x+=64){add(gt,'line',{x1:x+0.5,x2:x+0.5,y1:929,y2:934});}
})();
</script>
</body></html>
